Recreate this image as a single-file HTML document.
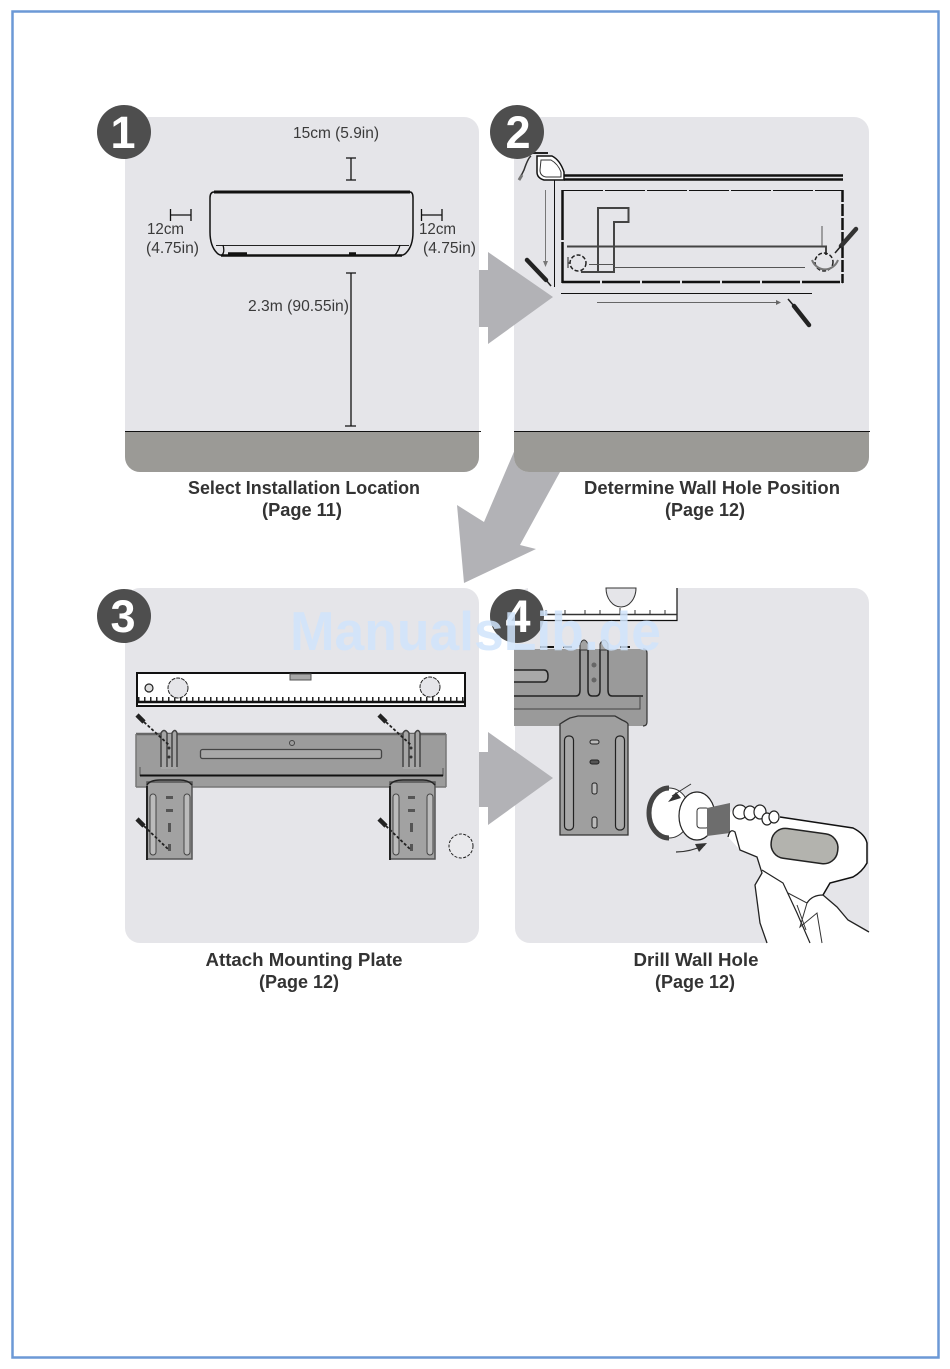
<!DOCTYPE html>
<html><head><meta charset="utf-8"><style>
html,body{margin:0;padding:0;background:#fff;width:950px;height:1369px;overflow:hidden}
svg{display:block}
text{font-family:"Liberation Sans",sans-serif;fill:#2e2e2e}
.c{font-size:18px;font-weight:bold;text-anchor:middle;fill:#333}
.d{font-size:15.500px;fill:#3a3a3a}
.n{font-size:45px;font-weight:bold;fill:#fff;text-anchor:middle}
.l{fill:none;stroke:#111}
</style></head><body>
<svg width="950" height="1369" viewBox="0 0 950 1369" xmlns="http://www.w3.org/2000/svg">
<rect width="950" height="1369" fill="#fff"/>
<rect x="12.500" y="11.500" width="926" height="1346" fill="none" stroke="#6c99d6" stroke-width="2.500"/>

<!-- panels -->
<rect x="125" y="117" width="354" height="355" rx="15" fill="#e5e5e9"/>
<path d="M125 431H479V457a15 15 0 0 1-15 15H140a15 15 0 0 1-15-15Z" fill="#9b9a96"/>
<path d="M125 431.500H481" stroke="#111" stroke-width="1"/>
<polygon points="516,447 560,472 520,545 536,549 464,583 457,505 484,522" fill="#b2b2b6"/>
<rect x="514" y="117" width="355" height="355" rx="15" fill="#e5e5e9"/>
<path d="M514 431H869V457a15 15 0 0 1-15 15H529a15 15 0 0 1-15-15Z" fill="#9b9a96"/>
<path d="M514 431.500H870" stroke="#111" stroke-width="1"/>
<rect x="125" y="588" width="354" height="355" rx="15" fill="#e5e5e9"/>
<rect x="515" y="588" width="354" height="355" rx="15" fill="#e5e5e9"/>

<!-- big arrows -->
<polygon points="479,270 488,270 488,252 553,297 488,344 488,327 479,327" fill="#b2b2b6"/>
<polygon points="479,752 488,752 488,732 553,778 488,825 488,807 479,807" fill="#b2b2b6"/>

<!-- panel 1 drawing -->
<path d="M214 192H410" stroke="#111" stroke-width="3"/>
<path class="l" stroke-width="1.500" d="M214 192Q210 192 210 198V232Q210 246 217 253Q220 256 224 255M410 192Q413 192 413 198V232Q413 246 406 253Q403 256 399 255"/>
<path d="M221 255.500H402" stroke="#111" stroke-width="2.500"/>
<path d="M216 245.500H409" stroke="#222" stroke-width="1"/>
<path d="M228 254H247M349 254H356" stroke="#111" stroke-width="3.500"/>
<path class="l" d="M223 245Q225 252 222 255M400 245Q398 252 395 255" stroke-width="1.300"/>
<path class="l" stroke-width="1.300" d="M351 158V180M346 158H356M346 180H356M351 273V426M346 273H356M345 426H356M170 215H191M170.500 209V221M191 209V221M421 215H442M421.500 209V221M442 209V221"/>
<text class="d" x="293" y="138" textLength="86" lengthAdjust="spacingAndGlyphs">15cm (5.9in)</text>
<text class="d" x="147" y="234" textLength="37" lengthAdjust="spacingAndGlyphs">12cm</text>
<text class="d" x="146" y="253" textLength="53" lengthAdjust="spacingAndGlyphs">(4.75in)</text>
<text class="d" x="419" y="234" textLength="37" lengthAdjust="spacingAndGlyphs">12cm</text>
<text class="d" x="423" y="253" textLength="53" lengthAdjust="spacingAndGlyphs">(4.75in)</text>
<text class="d" x="248" y="311" textLength="101" lengthAdjust="spacingAndGlyphs">2.3m (90.55in)</text>

<!-- panel 2 drawing -->
<path d="M564 175.500H843M564 179.500H843" stroke="#111" stroke-width="2.500"/>
<path d="M537 156H552Q560 160 564 172V180H544Q537 178 537 172Z" fill="#fff" stroke="#111" stroke-width="1.500"/>
<path d="M541 160H551Q558 164 561 172V177H546Q540 176 540 170Z" fill="#fff" stroke="#333" stroke-width="1"/>
<path d="M531 156Q528 158 524 170L519 180" fill="none" stroke="#333" stroke-width="1.500"/>
<path d="M522 175L519 180" stroke="#777" stroke-width="3"/>
<path d="M532 153H548" stroke="#222" stroke-width="2"/>
<path d="M554.500 180V287" stroke="#111" stroke-width="1"/>
<path d="M545.500 190V262" stroke="#777" stroke-width="1"/>
<polygon points="543,261 548,261 545.500,267" fill="#777"/>
<path d="M527 260L546 280" stroke="#222" stroke-width="4.500" stroke-linecap="round"/>
<path d="M546 280L551 286" stroke="#222" stroke-width="1.500"/>
<path d="M563 190.500H842" stroke="#111" stroke-width="1" stroke-dasharray="40 2"/>
<path d="M562.500 190V283" stroke="#111" stroke-width="2.500" stroke-dasharray="50 2"/>
<path d="M562 282H843" stroke="#111" stroke-width="2.500" stroke-dasharray="38 2"/>
<path d="M842.500 190V283" stroke="#111" stroke-width="2.500" stroke-dasharray="12 2"/>
<path d="M598 272V208H628.500V222H614V272H581" fill="none" stroke="#444" stroke-width="2"/>
<path d="M567 246.500H826V255" fill="none" stroke="#444" stroke-width="2"/>
<path d="M589 264.500H614M614 267.500H805" stroke="#555" stroke-width="1"/>
<path d="M822 226V246" stroke="#555" stroke-width="1"/>
<circle cx="578" cy="263" r="8" fill="none" stroke="#222" stroke-width="1.500" stroke-dasharray="4 2"/>
<path d="M568 257V268M568 263H570" stroke="#222" stroke-width="1"/>
<circle cx="824" cy="262" r="9" fill="none" stroke="#222" stroke-width="1.500" stroke-dasharray="4 2"/>
<path d="M812 260A14 15 0 0 0 838 260" fill="none" stroke="#777" stroke-width="2"/>
<path d="M561 293.500H812" stroke="#111" stroke-width="1"/>
<path d="M597 302.500H776" stroke="#666" stroke-width="1"/>
<polygon points="776,300 781,302.500 776,305" fill="#666"/>
<path d="M794 306L809 325" stroke="#222" stroke-width="4.500" stroke-linecap="round"/>
<path d="M788 299L794 306" stroke="#222" stroke-width="1.500"/>
<path d="M856 229L841 246" stroke="#333" stroke-width="4.500" stroke-linecap="round"/>
<path d="M841 246L835 253" stroke="#222" stroke-width="1.500"/>

<!-- panel 3 drawing -->
<rect x="137" y="673" width="328" height="33" fill="#fff" stroke="#111" stroke-width="2"/>
<path d="M138 702H465" stroke="#111" stroke-width="2.500"/>
<path d="M138 699H465" stroke="#222" stroke-width="4" stroke-dasharray="1.500 4.500"/>
<rect x="290" y="674" width="21" height="6" fill="#a8a8a8" stroke="#555" stroke-width="1"/>
<circle cx="178" cy="688" r="10" fill="#e5e5e9" stroke="#222" stroke-width="1" stroke-dasharray="4 1"/>
<circle cx="430" cy="687" r="10" fill="#e5e5e9" stroke="#222" stroke-width="1" stroke-dasharray="4 1"/>
<circle cx="149" cy="688" r="4" fill="#ddd" stroke="#222" stroke-width="1.200"/>

<rect x="136" y="734" width="310" height="53" fill="#9c9c9c"/>
<path d="M136 734H446" stroke="#666" stroke-width="2.500"/>
<path d="M136 787H446M136 734V787M446 734V787" stroke="#777" stroke-width="1.500"/>
<path d="M140 767V776M443 768V776" fill="none" stroke="#555" stroke-width="1"/>
<path d="M140 775.500H443" stroke="#111" stroke-width="2"/>
<rect x="200.500" y="749.500" width="181" height="9" rx="2" fill="#a8a8a8" stroke="#444" stroke-width="1.300"/>
<circle cx="292" cy="743" r="2.500" fill="none" stroke="#444" stroke-width="1"/>
<g fill="#a6a6a6" stroke="#444" stroke-width="1.500">
<rect x="161" y="734" width="16" height="35" stroke="none"/>
<path d="M161 767V733Q164 728 167 733V767M172 767V733Q175 728 177 733V767"/>
<rect x="403" y="734" width="16" height="35" stroke="none"/>
<path d="M403 767V733Q406 728 409 733V767M415 767V733Q418 728 420 733V767"/>
</g>
<circle cx="169" cy="757" r="1.500" fill="#333"/><circle cx="169" cy="748" r="1.500" fill="#333"/>
<circle cx="411" cy="757" r="1.500" fill="#333"/><circle cx="411" cy="748" r="1.500" fill="#333"/>

<g>
<rect x="147" y="782" width="45" height="77" fill="#a2a2a2" stroke="#555" stroke-width="1.500"/>
<path d="M147 860V786" stroke="#222" stroke-width="2"/>
<path d="M147 785Q150 780 160 780H180Q188 780 192 785" fill="none" stroke="#222" stroke-width="1.500"/>
<rect x="150" y="794" width="6" height="61" rx="3" fill="#bbb" stroke="#444" stroke-width="1"/>
<rect x="184" y="794" width="6" height="61" rx="3" fill="#bbb" stroke="#444" stroke-width="1"/>
<rect x="166" y="796" width="7" height="3" fill="#555"/><rect x="166" y="809" width="7" height="3" fill="#555"/>
<rect x="168" y="823" width="3" height="9" fill="#555"/><rect x="168" y="844" width="3" height="7" fill="#555"/>
</g>
<g>
<rect x="390" y="782" width="45" height="77" fill="#a2a2a2" stroke="#555" stroke-width="1.500"/>
<path d="M390 860V786" stroke="#222" stroke-width="2"/>
<path d="M390 785Q393 780 403 780H423Q431 780 435 785" fill="none" stroke="#222" stroke-width="1.500"/>
<rect x="393" y="794" width="6" height="61" rx="3" fill="#bbb" stroke="#444" stroke-width="1"/>
<rect x="427" y="794" width="6" height="61" rx="3" fill="#bbb" stroke="#444" stroke-width="1"/>
<rect x="408" y="796" width="7" height="3" fill="#555"/><rect x="408" y="809" width="7" height="3" fill="#555"/>
<rect x="410" y="823" width="3" height="9" fill="#555"/><rect x="410" y="844" width="3" height="7" fill="#555"/>
</g>
<g stroke="#222" fill="none">
<path d="M137 715L144 722M379 715L386 722M137 819L144 826M379 819L386 826" stroke-width="4.500"/>
<path d="M144 722L169 745M386 722L411 745M144 826L169 850M386 826L411 850" stroke-width="1.800" stroke-dasharray="3 2"/>
</g>
<circle cx="461" cy="846" r="12" fill="#e9e9ec" stroke="#222" stroke-width="1" stroke-dasharray="3 1.500"/>

<!-- panel 4 drawing -->
<path d="M528 588H677V620H528Z" fill="#fff"/>
<path d="M677 588V620.500H530" fill="none" stroke="#111" stroke-width="1.200"/>
<path d="M545 614.500H677" stroke="#333" stroke-width="1.500"/>
<path d="M546 614V610M565 614V610M585 614V610M600 614V610M620 614V608M635 614V610M650 614V610M665 614V610" stroke="#333" stroke-width="1"/>
<path d="M606 588A15 19 0 0 0 636 588Z" fill="#e5e5e9" stroke="#333" stroke-width="1"/>

<path d="M514 649H643Q647 649 647 653V722Q647 726 643 726H514Z" fill="#9a9a9a"/>
<path d="M643 649Q647 649 647 653V722Q647 726 643 726" fill="none" stroke="#333" stroke-width="1.200"/>
<path d="M514 670H544Q548 670 548 676Q548 682 544 682H514" fill="#a8a8a8" stroke="#222" stroke-width="1.500"/>
<path d="M514 696H576Q580 696 580 690V649M600 649V690Q600 696 596 696H592Q588 696 588 690V649M608 649V690Q608 696 612 696H643" fill="none" stroke="#222" stroke-width="1.500"/>
<path d="M514 709H640V696" fill="none" stroke="#444" stroke-width="1"/>
<path d="M580 650V644Q584 636 588 644V650Z" fill="#a2a2a2" stroke="#333" stroke-width="1"/>
<path d="M600 650V644Q604 636 608 644V650Z" fill="#a2a2a2" stroke="#333" stroke-width="1"/>
<circle cx="594" cy="665" r="2.500" fill="#666"/><circle cx="594" cy="680" r="2.500" fill="#666"/>
<path d="M540 647H554M563 647H572M620 647H630" stroke="#111" stroke-width="2"/>

<path d="M560 835V724Q566 720 570 718L578 716H615L622 720Q627 722 628 724V835Z" fill="#9f9f9f" stroke="#333" stroke-width="1.300"/>
<rect x="564.500" y="736" width="9" height="94" rx="4" fill="#a9a9a9" stroke="#222" stroke-width="1.200"/>
<rect x="615.500" y="736" width="9" height="94" rx="4" fill="#a9a9a9" stroke="#222" stroke-width="1.200"/>
<rect x="590" y="740" width="9" height="4" rx="2" fill="#bbb" stroke="#222"/>
<rect x="590" y="760" width="9" height="4" rx="2" fill="#555" stroke="#222"/>
<rect x="592" y="783" width="5" height="11" rx="2" fill="#bbb" stroke="#222"/>
<rect x="592" y="817" width="5" height="11" rx="2" fill="#bbb" stroke="#222"/>

<!-- drill -->
<path d="M727 817L735 806L780 817L853 828Q865 834 867 843V863Q862 872 853 877L830 883L823 895L837 907L848 920L869 932V943H767L760 923L755 885L762 873L757 857L740 850L728 837Z" fill="#fff"/>
<ellipse cx="669" cy="813" rx="21" ry="25" fill="#fff" stroke="#333" stroke-width="1"/>
<path d="M669 788A20 25 0 0 0 669 838" fill="none" stroke="#444" stroke-width="5"/>
<ellipse cx="697" cy="816" rx="18" ry="24" fill="#fff" stroke="#222" stroke-width="1.200"/>
<rect x="697" y="808" width="12" height="20" rx="3" fill="#fff" stroke="#333" stroke-width="1"/>
<polygon points="707,808 730,803 730,833 707,836" fill="#6d6d6d"/>
<path d="M780 817L853 828Q865 834 867 843V863Q862 872 853 877L830 883L823 895" fill="none" stroke="#111" stroke-width="1.500"/>
<g transform="rotate(8 804 846)"><rect x="771" y="831" width="67" height="30" rx="14" fill="#b3b3ae" stroke="#222" stroke-width="1.500"/></g>
<g fill="#fff" stroke="#222" stroke-width="1.200">
<ellipse cx="740" cy="812" rx="7" ry="7"/><ellipse cx="750" cy="813" rx="6" ry="7"/><ellipse cx="760" cy="812" rx="6" ry="7"/><ellipse cx="767" cy="819" rx="5" ry="6"/><ellipse cx="774" cy="817" rx="5" ry="6"/>
</g>
<path d="M728 837Q730 828 735 832L740 850L757 857L762 873L755 885L760 923L767 943" fill="none" stroke="#222" stroke-width="1.300"/>
<path d="M762 870L783 883L797 913L810 943" fill="none" stroke="#222" stroke-width="1.200"/>
<path d="M788 893L807 903L800 927L817 913L822 943M797 905L806 930" fill="none" stroke="#333" stroke-width="1"/>
<path d="M807 903Q812 895 823 895L837 907L848 920L869 932" fill="none" stroke="#222" stroke-width="1.300"/>
<path d="M672 796L691 784" stroke="#333" stroke-width="1" fill="none"/>
<polygon points="668,802 676,792 681,798" fill="#333"/>
<path d="M676 852Q690 852 705 845" fill="none" stroke="#333" stroke-width="1.200"/>
<polygon points="707,843 695,844 699,852" fill="#333"/>

<!-- number badges -->
<circle cx="124" cy="132" r="27" fill="#4e4e4e"/>
<text class="n" x="123" y="148">1</text>
<circle cx="517" cy="132" r="27" fill="#4e4e4e"/>
<text class="n" x="518" y="148">2</text>
<circle cx="124" cy="616" r="27" fill="#4e4e4e"/>
<text class="n" x="123" y="632">3</text>
<circle cx="517" cy="616" r="27" fill="#4e4e4e"/>
<text class="n" x="518" y="632">4</text>

<!-- captions -->
<text class="c" x="304" y="494" textLength="232" lengthAdjust="spacingAndGlyphs">Select Installation Location</text>
<text class="c" x="302" y="516" textLength="80" lengthAdjust="spacingAndGlyphs">(Page 11)</text>
<text class="c" x="712" y="494" textLength="256" lengthAdjust="spacingAndGlyphs">Determine Wall Hole Position</text>
<text class="c" x="705" y="516" textLength="80" lengthAdjust="spacingAndGlyphs">(Page 12)</text>
<text class="c" x="304" y="966" textLength="197" lengthAdjust="spacingAndGlyphs">Attach Mounting Plate</text>
<text class="c" x="299" y="988" textLength="80" lengthAdjust="spacingAndGlyphs">(Page 12)</text>
<text class="c" x="696" y="966" textLength="125" lengthAdjust="spacingAndGlyphs">Drill Wall Hole</text>
<text class="c" x="695" y="988" textLength="80" lengthAdjust="spacingAndGlyphs">(Page 12)</text>

<!-- watermark -->
<text x="290" y="650" textLength="371" lengthAdjust="spacingAndGlyphs" style="font-size:55px;font-weight:bold;fill:#d0e4fb;fill-opacity:.85">ManualsLib.de</text>
</svg>
</body></html>
